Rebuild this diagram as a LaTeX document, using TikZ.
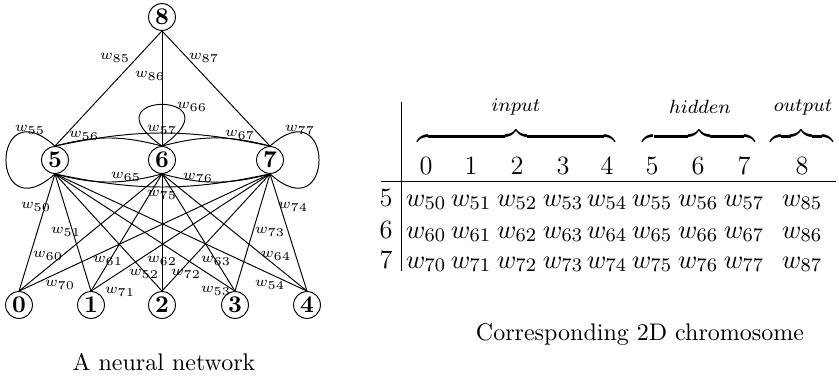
\documentclass[tikz,border=0pt]{standalone}
\begin{document}
\begin{tikzpicture}[x=0.4167pt,y=0.4167pt,
  neuron/.style={circle,draw,minimum size=11.2pt,inner sep=0.5pt,font=\bfseries},
  wlab/.style={inner sep=0.5pt,font=\fontsize{6}{7}\selectfont},
  tab/.style={font=\fontsize{11}{13.6}\selectfont,inner sep=0pt,anchor=base},
  brlab/.style={font=\fontsize{11}{13.6}\selectfont,inner sep=0pt},
  captext/.style={font=\fontsize{10}{12}\selectfont,inner sep=0pt,anchor=base}]
\useasboundingbox (0,0) rectangle (839,-381);
% neurons
\node[neuron] (n8) at (162,-17) {8};
\node[neuron] (n5) at (55,-160) {5};
\node[neuron] (n6) at (162,-160) {6};
\node[neuron] (n7) at (270,-160) {7};
\node[neuron] (n0) at (19,-305) {0};
\node[neuron] (n1) at (91,-305) {1};
\node[neuron] (n2) at (162,-305) {2};
\node[neuron] (n3) at (235,-305) {3};
\node[neuron] (n4) at (307,-305) {4};
% connections
\foreach \h in {5,6,7} \draw (n8.south) -- (n\h.north);
\foreach \h in {5,6,7} \foreach \i in {0,...,4} \draw (n\h.south) -- (n\i.north);
\draw (n5.north) to[bend left=15] (n6.north);
\draw (n6.north) to[bend left=15] (n7.north);
\draw (n5.north) to[bend left=12] (n7.north);
\draw (n5.south) to[bend right=15] (n6.south);
\draw (n6.south) to[bend right=15] (n7.south);
\draw (n5.south) to[bend right=12] (n7.south);
\draw (n5.north) .. controls +(138:88) and +(222:88) .. (n5.south);
\draw (n7.north) .. controls +(42:88) and +(-42:88) .. (n7.south);
\draw (n6.north) .. controls +(145:97) and +(35:97) .. (n6.north);
% weight labels
\node[wlab] (l85) at (115,-58) {$w_{85}$};
\node[wlab] (l86) at (150,-76) {$w_{86}$};
\node[wlab] (l87) at (204,-58) {$w_{87}$};
\node[wlab] (l66) at (192,-107) {$w_{66}$};
\node[wlab] (l55) at (30,-130) {$w_{55}$};
\node[wlab] (l56) at (84,-136) {$w_{56}$};
\node[wlab] (l57) at (162,-130) {$w_{57}$};
\node[wlab] (l67) at (240,-135) {$w_{67}$};
\node[wlab] (l77) at (300,-130) {$w_{77}$};
\node[wlab] (l65) at (126,-177) {$w_{65}$};
\node[wlab] (l76) at (198,-178) {$w_{76}$};
\node[wlab] (l75) at (162,-195) {$w_{75}$};
\node[wlab] (l50) at (36,-207) {$w_{50}$};
\node[wlab] (l74) at (293,-207) {$w_{74}$};
\node[wlab] (l51) at (66,-232) {$w_{51}$};
\node[wlab] (l73) at (270,-232) {$w_{73}$};
\node[wlab] (l60) at (48,-256) {$w_{60}$};
\node[wlab] (l61) at (108,-261) {$w_{61}$};
\node[wlab] (l62) at (162,-261) {$w_{62}$};
\node[wlab] (l63) at (216,-261) {$w_{63}$};
\node[wlab] (l64) at (276,-256) {$w_{64}$};
\node[wlab] (l52) at (144,-274) {$w_{52}$};
\node[wlab] (l72) at (186,-274) {$w_{72}$};
\node[wlab] (l70) at (60,-285) {$w_{70}$};
\node[wlab] (l54) at (270,-285) {$w_{54}$};
\node[wlab] (l71) at (120,-292) {$w_{71}$};
\node[wlab] (l53) at (216,-291) {$w_{53}$};
\node[captext] (cap1) at (164,-370) {A neural network};
% chromosome table
\coordinate (vt) at (401,-102);
\coordinate (vb) at (401,-271);
\coordinate (hl) at (381,-181);
\coordinate (hr) at (836,-181);
\draw (vt) -- (vb);
\draw (hl) -- (hr);
\node[brlab,anchor=base] (bin) at (516,-145) {$\smash{\overbrace{\hbox to 82.5pt{}}}$};
\node[brlab,anchor=base] (bhid) at (699,-145) {$\smash{\overbrace{\hbox to 46.7pt{}}}$};
\node[brlab,anchor=base] (bout) at (801.5,-145) {$\smash{\overbrace{\hbox to 26.2pt{}}}$};
\node[brlab] (tin) at (516,-107) {$\scriptstyle input$};
\node[brlab] (thid) at (700,-107) {$\scriptstyle hidden$};
\node[brlab] (tout) at (803,-107) {$\scriptstyle output$};
\foreach \c/\x in {0/426,1/471,2/517,3/563,4/607,5/652,6/698,7/744,8/802}
  \node[tab] (h\c) at (\x,-174) {\c};
\foreach \r/\y in {5/206,6/238,7/268}{
  \node[tab] (r\r) at (386,-\y) {\r};
  \foreach \c/\x in {0/426,1/471,2/517,3/563,4/607,5/652,6/698,7/744}
    \node[tab] (e\r\c) at (\x,-\y) {$w_{\r\c}$};
}
\node[tab] (e58) at (802,-206) {$w_{85}$};
\node[tab] (e68) at (802,-238) {$w_{86}$};
\node[tab] (e78) at (802,-268) {$w_{87}$};
\node[captext] (cap2) at (640,-340) {Corresponding 2D chromosome};
\end{tikzpicture}
\end{document}
